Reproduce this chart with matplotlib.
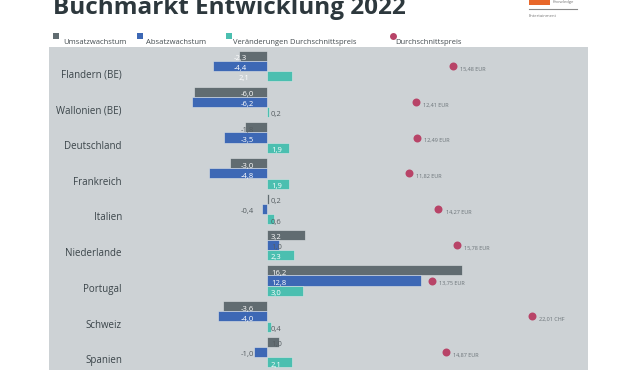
import numpy as np
from matplotlib import pyplot as plt
from matplotlib.patches import Rectangle
from matplotlib.lines import Line2D

# Data
regions = ['Flandern (BE)', 'Wallonien (BE)', 'Deutschland', 'Frankreich', 'Italien',
           'Niederlande', 'Portugal', 'Schweiz', 'Spanien']
umsatz = [-2.3, -6.0, -1.8, -3.0, 0.2, 3.2, 16.2, -3.6, 1.0]
absatz = [-4.4, -6.2, -3.5, -4.8, -0.4, 1.0, 12.8, -4.0, -1.0]
preis_change = [2.1, 0.2, 1.9, 1.9, 0.6, 2.3, 3.0, 0.4, 2.1]
preis = [15.48, 12.41, 12.49, 11.82, 14.27, 15.78, 13.75, 22.01, 14.87]
currency = ['EUR', 'EUR', 'EUR', 'EUR', 'EUR', 'EUR', 'EUR', 'CHF', 'EUR']

series_names = ['Umsatzwachstum', 'Absatzwachstum', 'Veränderungen Durchschnittspreis']
price_name = 'Durchschnittspreis'

GREY = '#616c71'
BLUE = '#3d68b5'
TEAL = '#4bbfb0'
DOT = '#b84468'
BG = '#cdd2d5'
W, H = 630, 370

plt.rcParams['font.family'] = ['Open Sans', 'DejaVu Sans']


# convert pixel position (from top-left) to figure fraction
def px(x, y):
    return x / W, 1 - y / H


def fmt(v, digits=1):
    return f"{v:.{digits}f}".replace('.', ',')


fig = plt.figure(figsize=(W / 100, H / 100), dpi=100)

# plot area (grey box), zero line at x=266.5 px, 12.05 px per unit
left, top = 49, 46.5
ax = fig.add_axes([left / W, 0, (588 - left) / W, (H - top) / H])
ax.set_facecolor(BG)
ax.set_xlim((left - 266.5) / 12.05, (588 - 266.5) / 12.05)
ax.set_ylim((H - 66) / 35.75, (top - 66) / 35.75)
for s in ax.spines.values():
    s.set_visible(False)
ax.set_xticks([])
ax.set_yticks([])

y = np.arange(len(regions))
bh = 0.28
offsets = [-0.28, 0.0, 0.29]
colors = [GREY, BLUE, TEAL]

for vals, off, col in zip([umsatz, absatz, preis_change], offsets, colors):
    ax.barh(y + off, vals, height=bh, color=col, edgecolor='#dfe3e5', linewidth=0.4)
    for i, v in enumerate(vals):
        txt_col = 'white' if abs(v) >= 1.9 else '#555d61'
        if v < 0:
            # Flandern labels sit a little further left
            xpos = -1.6 if i == 0 else -1.04
            ax.text(xpos, i + off + 0.08, fmt(v), ha='right', va='center',
                    fontsize=5.5, color=txt_col)
        elif i == 0 and col == TEAL:
            ax.text(-1.45, i + off + 0.05, fmt(v), ha='right', va='center',
                    fontsize=5.5, color='white')
        else:
            ax.text(0.37, i + off + 0.08, fmt(v), ha='left', va='center',
                    fontsize=5.5, color=txt_col)

# average price dots on the same axis
ax.scatter(preis, y, s=33, color=DOT, zorder=3, linewidths=0)
for i, (p, c) in enumerate(zip(preis, currency)):
    ax.text(p + 0.6, i + 0.09, f"{fmt(p, 2)} {c}", ha='left', va='center',
            fontsize=4, color='#6b7378')

# region names inside the grey area
for i, r in enumerate(regions):
    ax.text(-12.0, i + 0.25, r, ha='right', va='center', fontsize=7, color='#3a4449')

# title (partly cut off at the top)
fig.text(*px(53, 14), 'Buchmarkt Entwicklung 2022', fontsize=17.5, fontweight='bold',
         color='#2d383d', va='baseline')

# legend
leg_items = [(53, 63, GREY, series_names[0]),
             (137, 146, BLUE, series_names[1]),
             (226, 233, TEAL, series_names[2])]
for mx, tx, col, lab in leg_items:
    fig.add_artist(Rectangle(px(mx, 38.5), 6 / W, 6 / H, transform=fig.transFigure,
                             color=col, lw=0))
    fig.text(*px(tx, 42), lab, fontsize=5.5, color='#444c50', va='center')
fig.add_artist(Line2D([393 / W], [1 - 36 / H], transform=fig.transFigure,
                      marker='o', markersize=5, color=DOT, markeredgewidth=0))
fig.text(*px(395, 42), price_name, fontsize=5.5, color='#444c50', va='center')

# logo in the top right corner
fig.add_artist(Rectangle(px(529, 4.5), 21 / W, 4.5 / H, transform=fig.transFigure,
                         color='#e8672a', lw=0))
fig.text(*px(553, 2), 'Knowledge', fontsize=3, color='#777777', va='center')
fig.add_artist(Line2D([529 / W, 577 / W], [1 - 9.3 / H, 1 - 9.3 / H],
                      transform=fig.transFigure, color='#8a8a8a', lw=0.8))
fig.text(*px(529, 15.7), 'Entertainment', fontsize=3, color='#777777', va='center')

fig.savefig('out.png', dpi=100)
